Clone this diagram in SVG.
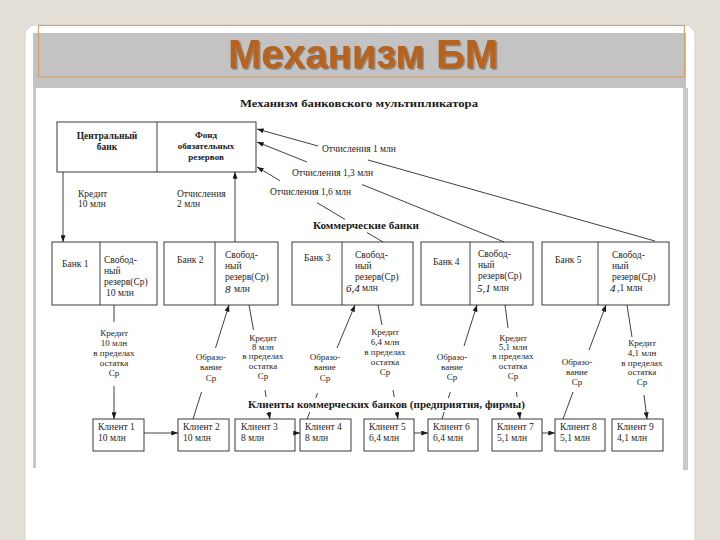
<svg xmlns="http://www.w3.org/2000/svg" width="720" height="540" viewBox="0 0 720 540">
<defs>
<marker id="ah" viewBox="0 0 8 6" refX="8" refY="3" markerWidth="7" markerHeight="5" markerUnits="userSpaceOnUse" orient="auto">
<path d="M0,0 L8,3 L0,6 z" fill="#1a1a1a"/>
</marker>
<filter id="sh" x="-5%" y="-20%" width="110%" height="140%">
<feDropShadow dx="1.6" dy="1.6" stdDeviation="0.7" flood-color="#5a4028" flood-opacity="0.55"/>
</filter>
</defs>
<style>
.t{font-family:"Liberation Serif","Times New Roman",serif;font-size:9.5px;fill:#1e1e1e}
.s{font-family:"Liberation Serif","Times New Roman",serif;font-size:9px;fill:#1e1e1e;text-anchor:middle}
.b{font-family:"Liberation Serif","Times New Roman",serif;font-weight:bold;fill:#1a1a1a}
.h{font-family:"Liberation Serif","Times New Roman",serif;font-style:italic;font-size:11px;fill:#111}
.box{fill:#fff;stroke:#3a3a3a;stroke-width:1}
.ln{stroke:#2a2a2a;stroke-width:0.9;fill:none}
.ar{stroke:#2a2a2a;stroke-width:0.9;fill:none;marker-end:url(#ah)}
</style>
<rect x="0" y="0" width="720" height="540" fill="#e4e0d7"/>
<rect x="25" y="25" width="670" height="530" rx="10" fill="#ffffff" stroke="#d6d2ca" stroke-width="1"/>
<rect x="33" y="33" width="653" height="55" fill="#c3c3c3"/>
<rect x="33" y="88" width="3" height="380" fill="#c9c9c9"/>
<rect x="683" y="88" width="5" height="382" fill="#c9c9c9"/>
<rect x="38.5" y="25.5" width="646" height="51.5" fill="none" stroke="#d4a06c" stroke-width="1.2"/>
<text x="363" y="68" font-family="'Liberation Sans',Arial,sans-serif" font-weight="bold" font-size="40" fill="#b8621c" text-anchor="middle" filter="url(#sh)">Механизм БМ</text>

<text class="b" x="240" y="107" font-size="11" textLength="238" lengthAdjust="spacingAndGlyphs">Механизм банковского мультипликатора</text>

<g id="central">
<rect class="box" x="57" y="122" width="199" height="50"/>
<line class="ln" x1="157" y1="122" x2="157" y2="172"/>
<text class="b" x="107" y="139" font-size="9.5" text-anchor="middle">Центральный</text>
<text class="b" x="107" y="150" font-size="9.5" text-anchor="middle">банк</text>
<text class="b" x="206" y="138" font-size="9" text-anchor="middle">Фонд</text>
<text class="b" x="206" y="149" font-size="9" text-anchor="middle">обязательных</text>
<text class="b" x="206" y="160" font-size="9" text-anchor="middle">резервов</text>
</g>

<g id="labels-top" fill="#1e1e1e">
<text class="t" x="78" y="197">Кредит</text>
<text class="t" x="78" y="207">10 млн</text>
<text class="t" x="177" y="197">Отчисления</text>
<text class="t" x="177" y="207">2 млн</text>
<text class="t" x="322" y="152">Отчисления 1 млн</text>
<text class="t" x="292" y="176">Отчисления 1,3 млн</text>
<text class="t" x="270" y="195">Отчисления 1,6 млн</text>
<text class="b" x="313" y="229" font-size="10.5" textLength="106" lengthAdjust="spacingAndGlyphs">Коммерческие банки</text>
</g>

<g id="bank1">
<rect class="box" x="52" y="242" width="105" height="63"/>
<line class="ln" x1="100" y1="242" x2="100" y2="305"/>
<text class="t" x="62" y="267">Банк 1</text>
<text class="t" x="104" y="263">Свобод-</text>
<text class="t" x="104" y="274">ный</text>
<text class="t" x="104" y="285">резерв(Ср)</text>
<text class="t" x="106" y="296">10 млн</text>
</g>
<g id="bank2">
<rect class="box" x="164" y="242" width="114" height="63"/>
<line class="ln" x1="215" y1="242" x2="215" y2="305"/>
<text class="t" x="177" y="263">Банк 2</text>
<text class="t" x="225" y="258">Свобод-</text>
<text class="t" x="225" y="269">ный</text>
<text class="t" x="225" y="280">резерв(Ср)</text>
<text class="h" x="225" y="293">8</text>
<text class="t" x="234" y="292">млн</text>
</g>
<g id="bank3">
<rect class="box" x="292" y="242" width="121" height="63"/>
<line class="ln" x1="342" y1="242" x2="342" y2="305"/>
<text class="t" x="304" y="261">Банк 3</text>
<text class="t" x="355" y="258">Свобод-</text>
<text class="t" x="355" y="269">ный</text>
<text class="t" x="355" y="280">резерв(Ср)</text>
<text class="h" x="346" y="292">6,4</text>
<text class="t" x="362" y="291">млн</text>
</g>
<g id="bank4">
<rect class="box" x="421" y="242" width="112" height="63"/>
<line class="ln" x1="470" y1="242" x2="470" y2="305"/>
<text class="t" x="433" y="265">Банк 4</text>
<text class="t" x="478" y="257">Свобод-</text>
<text class="t" x="478" y="268">ный</text>
<text class="t" x="478" y="279">резерв(Ср)</text>
<text class="h" x="477" y="292">5,1</text>
<text class="t" x="493" y="291">млн</text>
</g>
<g id="bank5">
<rect class="box" x="542" y="242" width="127" height="63"/>
<line class="ln" x1="598" y1="242" x2="598" y2="305"/>
<text class="t" x="555" y="263">Банк 5</text>
<text class="t" x="612" y="258">Свобод-</text>
<text class="t" x="612" y="269">ный</text>
<text class="t" x="612" y="280">резерв(Ср)</text>
<text class="h" x="610" y="292">4</text>
<text class="t" x="617" y="291">,1 млн</text>
</g>

<g id="labels-mid" fill="#1e1e1e">
<text class="s" x="114" y="336">Кредит</text>
<text class="s" x="114" y="346">10 млн</text>
<text class="s" x="114" y="356">в пределах</text>
<text class="s" x="114" y="366">остатка</text>
<text class="s" x="114" y="376">Ср</text>
<text class="s" x="211" y="360">Образо-</text>
<text class="s" x="211" y="370">вание</text>
<text class="s" x="211" y="381">Ср</text>
<text class="s" x="263" y="341">Кредит</text>
<text class="s" x="263" y="350">8 млн</text>
<text class="s" x="263" y="359">в пределах</text>
<text class="s" x="263" y="369">остатка</text>
<text class="s" x="263" y="379">Ср</text>
<text class="s" x="325" y="360">Образо-</text>
<text class="s" x="325" y="370">вание</text>
<text class="s" x="325" y="381">Ср</text>
<text class="s" x="385" y="335">Кредит</text>
<text class="s" x="385" y="345">6,4 млн</text>
<text class="s" x="385" y="355">в пределах</text>
<text class="s" x="385" y="365">остатка</text>
<text class="s" x="385" y="375">Ср</text>
<text class="s" x="452" y="360">Образо-</text>
<text class="s" x="452" y="370">вание</text>
<text class="s" x="452" y="380">Ср</text>
<text class="s" x="513" y="341">Кредит</text>
<text class="s" x="513" y="350">5,1 млн</text>
<text class="s" x="513" y="359">в пределах</text>
<text class="s" x="513" y="369">остатка</text>
<text class="s" x="513" y="379">Ср</text>
<text class="s" x="577" y="365">Образо-</text>
<text class="s" x="577" y="375">вание</text>
<text class="s" x="577" y="385">Ср</text>
<text class="s" x="642" y="346">Кредит</text>
<text class="s" x="642" y="356">4,1 млн</text>
<text class="s" x="642" y="366">в пределах</text>
<text class="s" x="642" y="375">остатка</text>
<text class="s" x="642" y="385">Ср</text>
<text class="b" x="248" y="408" font-size="10.5" textLength="277" lengthAdjust="spacingAndGlyphs">Клиенты коммерческих банков (предприятия, фирмы)</text>
</g>

<g id="client1"><rect class="box" x="93" y="419" width="51" height="32"/><text class="t" x="98" y="430">Клиент 1</text><text class="t" x="98" y="441">10 млн</text></g>
<g id="client2"><rect class="box" x="178" y="419" width="51" height="32"/><text class="t" x="183" y="430">Клиент 2</text><text class="t" x="183" y="441">10 млн</text></g>
<g id="client3"><rect class="box" x="235" y="419" width="60" height="32"/><text class="t" x="241" y="430">Клиент 3</text><text class="t" x="241" y="441">8 млн</text></g>
<g id="client4"><rect class="box" x="300" y="419" width="51" height="32"/><text class="t" x="305" y="430">Клиент 4</text><text class="t" x="305" y="441">8 млн</text></g>
<g id="client5"><rect class="box" x="364" y="419" width="50" height="32"/><text class="t" x="369" y="430">Клиент 5</text><text class="t" x="369" y="441">6,4 млн</text></g>
<g id="client6"><rect class="box" x="428" y="419" width="50" height="32"/><text class="t" x="433" y="430">Клиент 6</text><text class="t" x="433" y="441">6,4 млн</text></g>
<g id="client7"><rect class="box" x="492" y="419" width="50" height="32"/><text class="t" x="497" y="430">Клиент 7</text><text class="t" x="497" y="441">5,1 млн</text></g>
<g id="client8"><rect class="box" x="555" y="419" width="50" height="32"/><text class="t" x="560" y="430">Клиент 8</text><text class="t" x="560" y="441">5,1 млн</text></g>
<g id="client9"><rect class="box" x="612" y="419" width="51" height="32"/><text class="t" x="617" y="430">Клиент 9</text><text class="t" x="617" y="441">4,1 млн</text></g>

<g id="connectors">
<line class="ln" x1="318" y1="146" x2="257" y2="129" marker-end="url(#ah)"/>
<line class="ln" x1="368" y1="160" x2="655" y2="241"/>
<line class="ln" x1="307" y1="162" x2="257" y2="142" marker-end="url(#ah)"/>
<line class="ln" x1="362" y1="184.5" x2="504" y2="242"/>
<line class="ln" x1="280" y1="180.7" x2="257" y2="167" marker-end="url(#ah)"/>
<line class="ln" x1="317" y1="202.7" x2="345" y2="219.4"/>
<line class="ln" x1="367" y1="232.5" x2="383" y2="242"/>
<line class="ar" x1="63" y1="172" x2="63" y2="242"/>
<line class="ar" x1="235" y1="242" x2="235" y2="172"/>
<line class="ln" x1="114" y1="305" x2="114" y2="322"/>
<line class="ar" x1="114" y1="386" x2="114" y2="419"/>
<line class="ln" x1="193" y1="419" x2="201.5" y2="392"/>
<line class="ar" x1="215.5" y1="348" x2="229" y2="305"/>
<line class="ln" x1="249" y1="305" x2="253.5" y2="330"/>
<line class="ln" x1="265" y1="390" x2="266.1" y2="397"/>
<line class="ar" x1="268.7" y1="412" x2="270" y2="419"/>
<line class="ln" x1="307" y1="419" x2="309.9" y2="412"/>
<line class="ln" x1="315.8" y1="398" x2="317.5" y2="393"/>
<line class="ar" x1="337" y1="348" x2="355" y2="305"/>
<line class="ln" x1="378" y1="305" x2="382" y2="325"/>
<line class="ln" x1="393" y1="390" x2="394.2" y2="397"/>
<line class="ar" x1="396.8" y1="412" x2="398" y2="419"/>
<line class="ln" x1="442" y1="419" x2="444.1" y2="412"/>
<line class="ln" x1="448.4" y1="398" x2="450.3" y2="392"/>
<line class="ar" x1="464" y1="346" x2="477" y2="305"/>
<line class="ln" x1="505" y1="305" x2="508" y2="328"/>
<line class="ln" x1="516.4" y1="392" x2="517.1" y2="397"/>
<line class="ar" x1="519.1" y1="412" x2="520" y2="419"/>
<line class="ln" x1="563" y1="419" x2="573" y2="392"/>
<line class="ar" x1="589" y1="350" x2="606" y2="305"/>
<line class="ln" x1="627" y1="305" x2="632" y2="337"/>
<line class="ar" x1="644" y1="395" x2="647" y2="419"/>
<line class="ar" x1="144" y1="433" x2="178" y2="433"/>
<line class="ar" x1="295" y1="433" x2="300" y2="433"/>
<line class="ar" x1="414" y1="433" x2="428" y2="433"/>
<line class="ar" x1="542" y1="433" x2="555" y2="433"/>
</g>
</svg>
